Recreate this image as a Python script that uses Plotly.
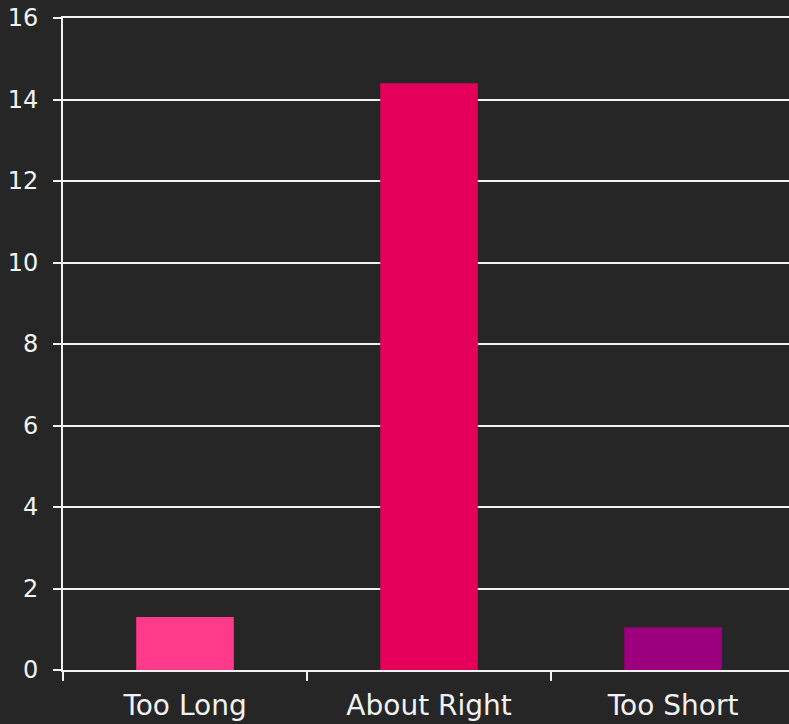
import plotly.graph_objects as go

# Survey responses on length
categories = ["Too Long", "About Right", "Too Short"]
values = [1.3, 14.4, 1.05]
bar_colors = ["#FF3A8A", "#E4005A", "#9C007E"]

y_ticks = [0, 2, 4, 6, 8, 10, 12, 14, 16]

bg = "#262626"
fg = "#F2F2F2"

fig = go.Figure(
    go.Bar(
        x=categories,
        y=values,
        marker=dict(color=bar_colors, line=dict(width=0)),
        width=0.4,
    )
)

fig.update_layout(
    width=789,
    height=724,
    margin=dict(l=63, r=0, t=18, b=54),
    paper_bgcolor=bg,
    plot_bgcolor=bg,
    showlegend=False,
    font=dict(family="DejaVu Sans", color=fg),
    bargap=0.6,
)

fig.update_xaxes(
    type="category",
    range=[-0.5, 2.475],
    tickson="boundaries",
    ticks="outside",
    ticklen=9,
    tickwidth=2,
    tickcolor=fg,
    showline=True,
    mirror=True,
    linecolor=fg,
    linewidth=2,
    showgrid=False,
    tickfont=dict(size=28, color=fg),
    ticklabelstandoff=9,
)

fig.update_yaxes(
    range=[0, 16],
    tickvals=y_ticks,
    ticktext=[str(v) for v in y_ticks],
    ticks="outside",
    ticklen=8,
    tickwidth=2,
    tickcolor=fg,
    showline=True,
    linecolor=fg,
    linewidth=2,
    showgrid=True,
    gridcolor=fg,
    gridwidth=2,
    zeroline=False,
    tickfont=dict(size=24, color=fg),
    ticklabelstandoff=10,
)

fig.write_html("out.html")
